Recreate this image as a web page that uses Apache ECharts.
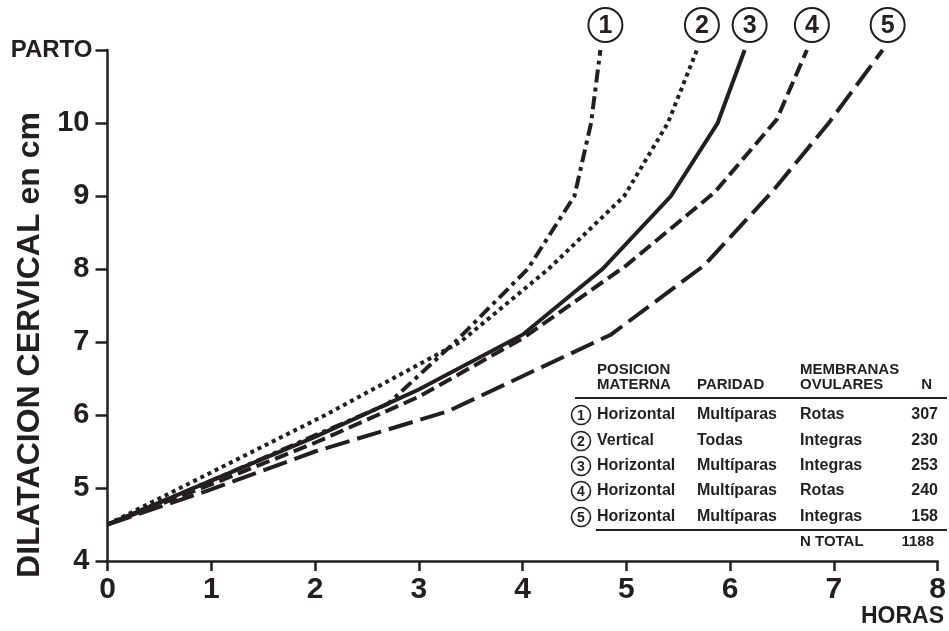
<!DOCTYPE html>
<html><head><meta charset="utf-8">
<script src="https://cdn.jsdelivr.net/npm/echarts@6/dist/echarts.min.js"></script>
<style>html,body{margin:0;padding:0;background:#fff}#c{width:949px;height:631px}</style>
</head><body><div id="c"></div>
<script>
// ---- data ----
const curveIds = ['1', '2', '3', '4', '5'];
// hours (x) and cervical dilation in cm (y); 11 = PARTO
const c1x = [0, 1, 2, 2.7, 3.35, 4.05, 4.5, 4.66, 4.75];
const c1y = [4.5, 5.1, 5.72, 6.15, 7.0, 8.0, 9.0, 10.0, 11.0];
const c2x = [0, 0.7, 2.1, 3.4, 4.25, 4.98, 5.4, 5.68];
const c2y = [4.5, 5.0, 6.0, 7.0, 8.0, 9.0, 10.0, 11.0];
const c3x = [0, 1, 2, 3, 4, 4.77, 5.43, 5.88, 6.14];
const c3y = [4.5, 5.1, 5.7, 6.35, 7.1, 8.0, 9.0, 10.0, 11.0];
const c4x = [0, 1, 2, 3, 4, 5, 5.85, 6.45, 6.74];
const c4y = [4.5, 5.05, 5.62, 6.25, 7.05, 8.05, 9.05, 10.05, 11.0];
const c5x = [0, 1, 2, 3.28, 4.85, 5.75, 6.4, 6.95, 7.47];
const c5y = [4.5, 4.98, 5.5, 6.05, 7.1, 8.05, 9.05, 10.0, 11.0];
const xMin = 0, xMax = 8;
const yMin = 4, yMax = 11;
const yTopLabel = 'PARTO';
const xTitle = 'HORAS';
const yTitle = 'DILATACION CERVICAL en cm';
// table
const headPos = ['POSICION', 'MATERNA'];
const headPar = 'PARIDAD';
const headMem = ['MEMBRANAS', 'OVULARES'];
const headN = 'N';
const posicion = ['Horizontal', 'Vertical', 'Horizontal', 'Horizontal', 'Horizontal'];
const paridad = ['Multíparas', 'Todas', 'Multíparas', 'Multíparas', 'Multíparas'];
const membranas = ['Rotas', 'Integras', 'Integras', 'Rotas', 'Integras'];
const nValues = [307, 230, 253, 240, 158];
const totalLabel = 'N TOTAL';
const nTotal = 1188;

// ---- styles ----
const INK = '#231f20';
const FONT = '"Liberation Sans", Arial, sans-serif';
const lineTypes = [[13, 5, 4, 5], [4, 4], 'solid', [14, 6], [25, 8]];

function pairs(xs, ys) { return xs.map((x, i) => [x, ys[i]]); }
const curves = [pairs(c1x, c1y), pairs(c2x, c2y), pairs(c3x, c3y), pairs(c4x, c4y), pairs(c5x, c5y)];

const chart = echarts.init(document.getElementById('c'), null, { renderer: 'canvas' });

const option = {
  animation: false,
  backgroundColor: '#fff',
  grid: { left: 107.5, right: 6, top: 50, bottom: 70 },
  xAxis: {
    type: 'value', min: xMin, max: xMax, interval: 1,
    axisLine: { show: true, onZero: false, lineStyle: { color: INK, width: 2.5 } },
    axisTick: { show: true, length: 10, lineStyle: { color: INK, width: 2.5 } },
    axisLabel: { color: INK, fontFamily: FONT, fontWeight: 'bold', fontSize: 30, margin: 14 },
    splitLine: { show: false }
  },
  yAxis: {
    type: 'value', min: yMin, max: yMax, interval: 1,
    axisLine: { show: true, onZero: false, lineStyle: { color: INK, width: 2.5 } },
    axisTick: { show: true, length: 12, lineStyle: { color: INK, width: 2.5 } },
    axisLabel: {
      color: INK, fontFamily: FONT, fontWeight: 'bold', fontSize: 29, margin: 18,
      formatter: v => v === yMax ? '{p|' + yTopLabel + '}' : String(v),
      rich: { p: { fontFamily: FONT, fontWeight: 'bold', fontSize: 24, color: INK, padding: [0, -3, 0, 0] } }
    },
    splitLine: { show: false }
  },
  series: curves.map((d, i) => ({
    type: 'line', name: curveIds[i], data: d, showSymbol: false, symbol: 'none',
    lineStyle: { color: INK, width: 4, type: lineTypes[i], cap: 'butt', join: 'miter' },
    z: 3
  }))
};
chart.setOption(option);

// ---- annotations ----
const g = [];
function txt(text, x, y, size, align, extra) {
  return Object.assign({
    type: 'text', x: x, y: y, z: 10,
    style: { text: text, font: 'bold ' + size + 'px ' + FONT, fill: INK, align: align, verticalAlign: 'middle', textAlign: align, textVerticalAlign: 'middle' }
  }, extra || {});
}
function circ(label, cx, cy, r, size, lw) {
  g.push({ type: 'circle', z: 10, shape: { cx: cx, cy: cy, r: r }, style: { fill: '#fff', stroke: INK, lineWidth: lw } });
  g.push(txt(label, cx, cy + 1, size, 'center'));
}
// numbered circles at the top of each curve
curves.forEach((d, i) => {
  const end = d[d.length - 1];
  const p = chart.convertToPixel({ gridIndex: 0 }, end);
  circ(curveIds[i], p[0] + 5, 25, 17, 25, 2);
});
// axis titles
g.push(txt(yTitle, 30, 345, 32, 'center', { rotation: Math.PI / 2 }));
g.push(txt(xTitle, 944, 617, 23, 'right'));
// table
const colC = 581, col1 = 597, col2 = 697, col3 = 800, col4 = 938;
g.push(txt(headPos[0], col1, 370, 15, 'left'));
g.push(txt(headPos[1], col1, 385, 15, 'left'));
g.push(txt(headPar, col2, 385, 15, 'left'));
g.push(txt(headMem[0], col3, 370, 15, 'left'));
g.push(txt(headMem[1], col3, 385, 15, 'left'));
g.push(txt(headN, 932, 385, 15, 'right'));
g.push({ type: 'line', z: 10, shape: { x1: 575, y1: 398, x2: 947, y2: 398 }, style: { stroke: INK, lineWidth: 2 } });
const rowY = [415, 441, 466, 491, 517];
posicion.forEach((p, i) => {
  circ(curveIds[i], colC, rowY[i], 9.5, 14, 1.6);
  g.push(txt(p, col1, rowY[i], 16, 'left'));
  g.push(txt(paridad[i], col2, rowY[i], 16, 'left'));
  g.push(txt(membranas[i], col3, rowY[i], 16, 'left'));
  g.push(txt(String(nValues[i]), col4, rowY[i], 16, 'right'));
});
g.push({ type: 'line', z: 10, shape: { x1: 596, y1: 530, x2: 947, y2: 530 }, style: { stroke: INK, lineWidth: 2 } });
g.push(txt(totalLabel, col3, 542, 15, 'left'));
g.push(txt(String(nTotal), 934, 542, 15, 'right'));

chart.setOption({ graphic: { elements: g } });
</script></body></html>
